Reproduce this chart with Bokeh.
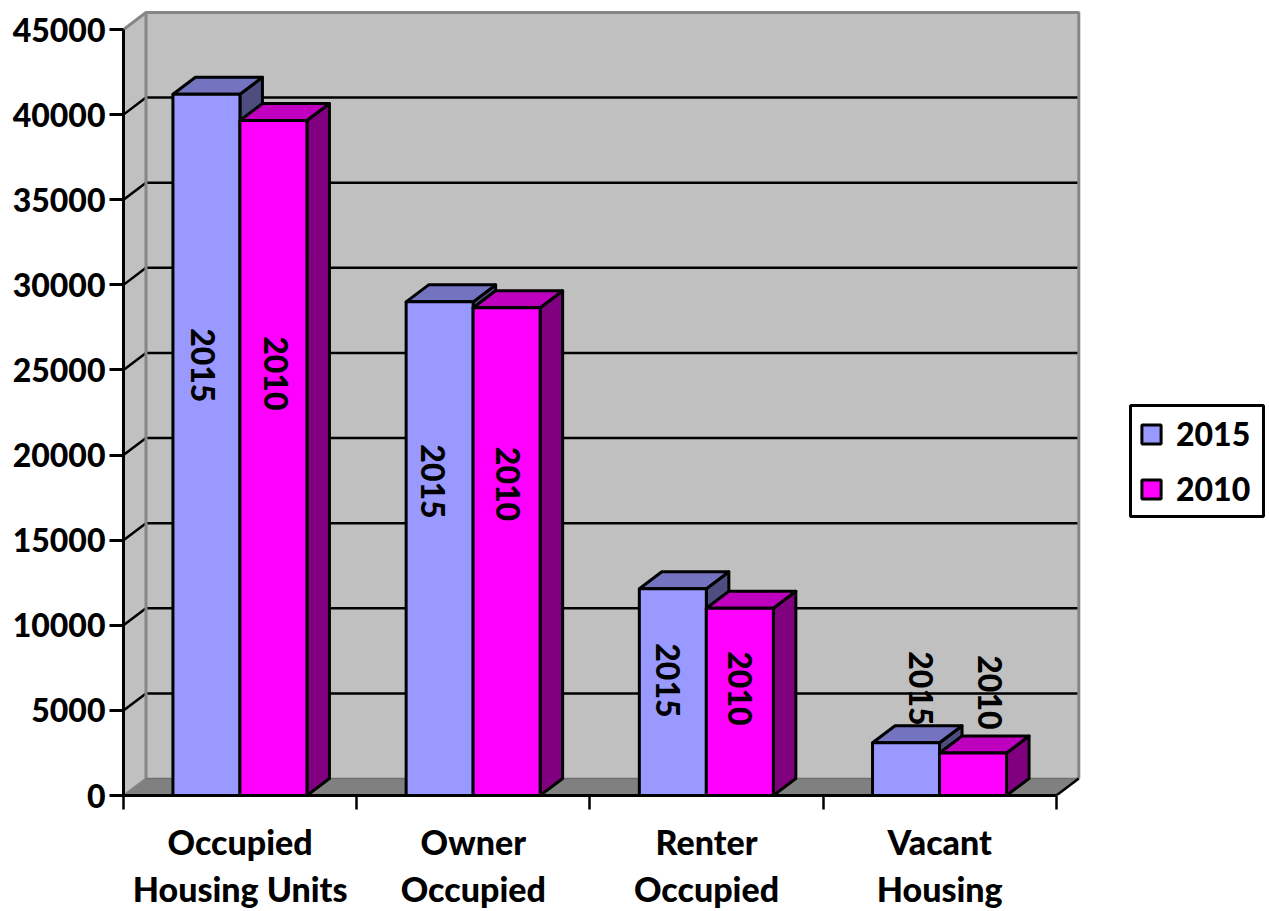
from math import pi
from bokeh.plotting import figure
from bokeh.models import (ColumnDataSource, Range1d, LinearAxis, FixedTicker, Legend, LegendItem)
from bokeh.core.properties import value
from bokeh.embed import file_html
from bokeh.resources import INLINE

categories_line1 = ["Occupied", "Owner", "Renter", "Vacant"]
categories_line2 = ["Housing Units", "Occupied", "Occupied", "Housing"]
series_2015 = [41200, 29000, 12150, 3100]
series_2010 = [39650, 28650, 11000, 2500]
y_ticks = [0, 5000, 10000, 15000, 20000, 25000, 30000, 35000, 40000, 45000]

FONT = "Lato Black"
FS = "32px"
FS_CAT = "34px"
W, H = 1269, 911
LEFT, BOTTOM = 123, 116
frame_w, frame_h = W - LEFT, H - BOTTOM
PX_X = 233.2            # px per category
PX_Y = 766 / 45000      # px per unit
DX = 22.5 / PX_X        # depth of the 3D effect
DY = 17 / PX_Y
XMAX = 4
YMAX = 45000
GROUP = 0.212
BAR = 0.2873
LW = 3

p = figure(width=W, height=H, output_backend="svg", toolbar_location=None,
           x_range=Range1d(0, frame_w / PX_X), y_range=Range1d(0, frame_h / PX_Y),
           x_axis_type=None, y_axis_type=None,
           min_border_left=LEFT, min_border_bottom=BOTTOM, min_border_top=0, min_border_right=0)
p.outline_line_color = None
p.grid.visible = False
p.background_fill_color = "white"
p.border_fill_color = "white"

WALL = "#C0C0C0"
EDGE = "#868686"

# walls and floor
p.patch([0, DX, DX, 0], [0, DY, YMAX + DY, YMAX], fill_color=WALL, line_color=None)
p.patch([DX, XMAX + DX, XMAX + DX, DX], [DY, DY, YMAX + DY, YMAX + DY], fill_color=WALL, line_color=None)
# gridlines
grid = [t for t in y_ticks if t > 0]
p.multi_line([[0, DX, XMAX + DX] for t in grid[:-1]], [[t, t + DY, t + DY] for t in grid[:-1]],
             line_color="black", line_width=2.5)
# wall edges
p.line([0, DX, XMAX + DX, XMAX + DX], [YMAX, YMAX + DY, YMAX + DY, DY], line_color=EDGE, line_width=3)
p.line([DX, DX], [DY, YMAX + DY], line_color=EDGE, line_width=3)
p.line([0, DX], [0, DY], line_color=EDGE, line_width=2)
p.patch([0, XMAX, XMAX + DX, DX], [0, 0, DY, DY], fill_color="#808080", line_color=None)
p.line([DX, XMAX + DX], [DY, DY], line_color="#6f6f6f", line_width=1.5)
p.line([XMAX, XMAX + DX], [0, DY], line_color="black", line_width=2.5)

lab_x_2015 = [0.343, 1.329, 2.337, 3.418]
lab_y_2015 = [25275, 18450, 6760, 6290]
lab_x_2010 = [0.656, 1.647, 2.642, 3.714]
lab_y_2010 = [24800, 18300, 6290, 6055]


def text(xs, ys, label):
    p.text(xs, ys, text=value(label), angle=-pi / 2, text_align="center", text_baseline="middle",
           text_font=value(FONT), text_font_style="bold", text_font_size=FS, text_color="black")


text(lab_x_2015[3:], lab_y_2015[3:], "2015")


def bars(vals, start, face, top, side):
    x0 = [i + start for i in range(len(vals))]
    x1 = [x + BAR for x in x0]
    p.patches([[b, b + DX, b + DX, b] for b in x1],
              [[0, DY, v + DY, v] for v in vals],
              fill_color=side, line_color="black", line_width=LW, line_join="round")
    p.patches([[a, b, b + DX, a + DX] for a, b in zip(x0, x1)],
              [[v, v, v + DY, v + DY] for v in vals],
              fill_color=top, line_color="black", line_width=LW, line_join="round")
    src = ColumnDataSource(dict(x=[(a + b) / 2 for a, b in zip(x0, x1)], top=vals))
    return p.vbar(x="x", top="top", bottom=0, width=BAR, source=src,
                  fill_color=face, line_color="black", line_width=LW)


r15 = bars(series_2015, GROUP, "#9999FF", "#7373BF", "#4D4D80")
r10 = bars(series_2010, GROUP + BAR, "#FF00FF", "#BF00BF", "#800080")

text(lab_x_2015[:3], lab_y_2015[:3], "2015")
text(lab_x_2010, lab_y_2010, "2010")

# axes
ya = LinearAxis(ticker=FixedTicker(ticks=y_ticks), bounds=(0, YMAX))
ya.axis_line_color = "black"
ya.axis_line_width = 3
ya.major_tick_line_width = 3
ya.major_tick_out = 14
ya.major_tick_in = 0
ya.minor_tick_out = 0
ya.major_label_standoff = 4
ya.major_label_text_font = FONT
ya.major_label_text_font_style = "bold"
ya.major_label_text_font_size = FS
ya.major_label_text_color = "black"
p.add_layout(ya, "left")

centers = [0.5, 1.5, 2.5, 3.5]
xa = LinearAxis(ticker=FixedTicker(ticks=centers, minor_ticks=[0, 1, 2, 3, 4]), bounds=(0, XMAX),
                major_label_overrides=dict(zip(centers, categories_line1)))
xa.axis_line_color = "black"
xa.axis_line_width = 3
xa.major_tick_out = 0
xa.major_tick_in = 0
xa.minor_tick_out = 14
xa.minor_tick_in = 0
xa.minor_tick_line_width = 2.5
xa.major_label_standoff = 11
xa.major_label_text_font = FONT
xa.major_label_text_font_style = "bold"
xa.major_label_text_font_size = FS_CAT
xa.major_label_text_color = "black"
p.add_layout(xa, "below")

xb = LinearAxis(ticker=FixedTicker(ticks=centers), bounds=(0, XMAX),
                major_label_overrides=dict(zip(centers, categories_line2)))
xb.axis_line_color = None
xb.major_tick_line_color = None
xb.minor_tick_line_color = None
xb.major_tick_out = 0
xb.major_tick_in = 0
xb.minor_tick_out = 0
xb.major_label_standoff = 3
xb.major_label_text_font = FONT
xb.major_label_text_font_style = "bold"
xb.major_label_text_font_size = FS_CAT
xb.major_label_text_color = "black"
p.add_layout(xb, "below")

# legend frame, drawn under the (transparent) legend
p.quad(left=[(1130 - LEFT) / PX_X], right=[(1263 - LEFT) / PX_X],
       bottom=[(795 - 516) / PX_Y], top=[(795 - 405) / PX_Y],
       fill_color="white", line_color="black", line_width=LW)
legend = Legend(items=[LegendItem(label="2015", renderers=[r15]), LegendItem(label="2010", renderers=[r10])],
                location=(1139 - LEFT, 795 - 508), orientation="vertical", margin=0, padding=8, spacing=16,
                glyph_width=24, glyph_height=24, label_height=24, label_standoff=13,
                label_text_font=FONT, label_text_font_style="bold", label_text_font_size=FS,
                label_text_color="black", border_line_color=None,
                background_fill_alpha=0)
p.add_layout(legend)

open("out.html", "w").write(file_html(p, INLINE))
